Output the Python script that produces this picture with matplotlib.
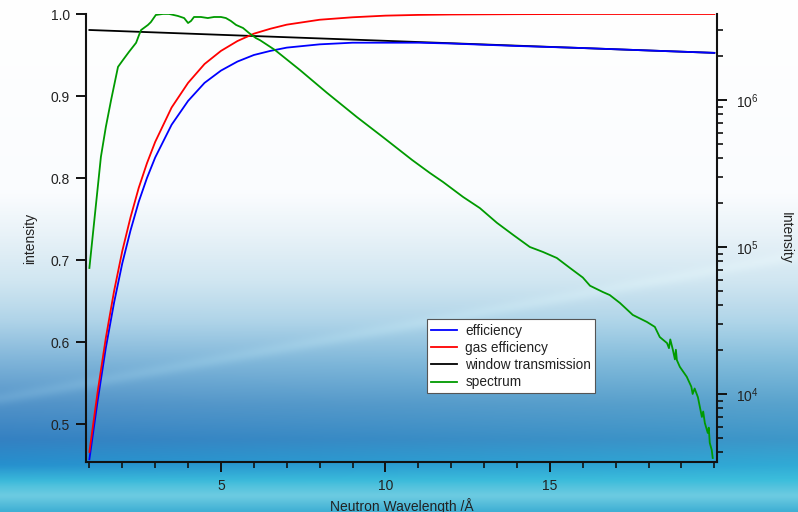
import numpy as np
import matplotlib
matplotlib.use("Agg")
import matplotlib.pyplot as plt
from matplotlib.ticker import MultipleLocator, LogLocator, NullFormatter
from matplotlib.lines import Line2D

plt.rcParams['font.family'] = ['Liberation Sans', 'DejaVu Sans']

# Detector efficiency curves vs wavelength (Å)
wl_eff = [1.0, 1.25, 1.5, 1.75, 2.0, 2.25, 2.5, 2.75, 3.0, 3.5, 4.0, 4.5, 5.0,
          5.5, 6.0, 6.5, 7.0, 8.0, 9.0, 10.0, 11.0, 12.0, 14.0, 16.0, 18.0, 20.0]
gas_efficiency = [0.466, 0.539, 0.605, 0.662, 0.711, 0.752, 0.788, 0.818, 0.844,
                  0.886, 0.916, 0.939, 0.955, 0.967, 0.976, 0.982, 0.987, 0.993,
                  0.996, 0.998, 0.9989, 0.9994, 0.9998, 1.0, 1.0, 1.0]
efficiency = [0.457, 0.528, 0.593, 0.648, 0.696, 0.736, 0.771, 0.800, 0.825,
              0.865, 0.894, 0.916, 0.931, 0.942, 0.950, 0.955, 0.959, 0.963,
              0.965, 0.965, 0.965, 0.964, 0.961, 0.9585, 0.9555, 0.9526]

wl_window = [1.0, 5.0, 10.0, 15.0, 20.0]
window_transmission = [0.9805, 0.9746, 0.9673, 0.9599, 0.9526]

# Measured neutron spectrum (counts)
wl_spec = [1.0, 1.35, 1.50, 1.66, 1.87, 2.02, 2.20, 2.42, 2.51, 2.57, 2.78, 2.87,
           3.02, 3.24, 3.42, 3.69, 3.88, 4.00, 4.09, 4.18, 4.39, 4.60, 4.79, 5.00,
           5.15, 5.30, 5.46, 5.67, 5.85, 6.06, 6.19, 6.64, 7.40, 8.22, 9.13, 9.92,
           10.81, 11.35, 11.75, 12.36, 12.87, 13.39, 13.88, 14.39, 14.79, 15.21,
           15.61, 16.00, 16.22, 16.61, 16.82, 17.13, 17.52, 17.95, 18.19, 18.34,
           18.56, 18.62, 18.66, 18.74, 18.80, 18.83, 18.86, 18.95, 19.16, 19.30,
           19.34, 19.40, 19.50, 19.62, 19.66, 19.71, 19.80, 19.83, 19.86, 19.92,
           19.95]
spectrum = [7.2e4, 4.1e5, 6.55e5, 1.0e6, 1.68e6, 1.87e6, 2.12e6, 2.45e6, 2.77e6,
            2.99e6, 3.24e6, 3.39e6, 3.79e6, 3.85e6, 3.85e6, 3.73e6, 3.61e6,
            3.34e6, 3.45e6, 3.67e6, 3.67e6, 3.61e6, 3.67e6, 3.67e6, 3.61e6,
            3.45e6, 3.24e6, 3.09e6, 2.86e6, 2.64e6, 2.55e6, 2.19e6, 1.60e6,
            1.12e6, 7.66e5, 5.60e5, 3.91e5, 3.19e5, 2.77e5, 2.19e5, 1.84e5,
            1.46e5, 1.21e5, 1.0e5, 9.25e4, 8.42e4, 7.2e4, 6.2e4, 5.45e4, 4.94e4,
            4.71e4, 4.16e4, 3.45e4, 3.09e4, 2.86e4, 2.44e4, 2.22e4, 2.05e4,
            2.35e4, 1.99e4, 1.72e4, 2.0e4, 1.70e4, 1.53e4, 1.31e4, 1.12e4,
            1.0e4, 1.09e4, 9.5e3, 6.98e3, 7.6e3, 6.35e3, 5.43e3, 5.9e3, 4.65e3,
            4.16e3, 3.67e3]

labels = ["efficiency", "gas efficiency", "window transmission", "spectrum"]
colors = ["#0000ff", "#ff0000", "#000000", "#009a00"]

W, H = 798, 512
fig = plt.figure(figsize=(W / 100, H / 100), dpi=100)

# Backdrop: white at the top fading to blue/cyan toward the bottom
bg = fig.add_axes([0, 0, 1, 1], zorder=-10)
ny, nx = 256, 200
yy = np.linspace(0, 1, ny)[:, None]   # 0 top, 1 bottom
xx = np.linspace(0, 1, nx)[None, :]
stops_y = [0.0, 0.38, 0.46, 0.55, 0.63, 0.71, 0.79, 0.86, 0.91, 0.94, 0.97, 1.0]
stops_c = np.array([
    [255, 255, 255], [250, 252, 254], [232, 242, 248], [208, 230, 241],
    [176, 212, 232], [134, 184, 216], [98, 156, 200], [74, 142, 194],
    [64, 160, 206], [64, 188, 218], [110, 204, 226], [64, 176, 212]]) / 255.0
img = np.zeros((ny, nx, 3))
for k in range(3):
    img[:, :, k] = np.interp(yy[:, 0], stops_y, stops_c[:, k])[:, None]
# darker steel blue toward the lower left, lighter cyan to the right
shade = np.clip((yy - 0.60) / 0.3, 0, 1) * np.clip(1 - (yy - 0.91) / 0.04, 0, 1)
left_dark = shade * (0.10 * (1 - xx))
img[:, :, 0] -= left_dark * 1.0
img[:, :, 1] -= left_dark * 0.6
right_cyan = shade * 0.10 * xx
img[:, :, 0] -= right_cyan * 0.6
img[:, :, 1] += right_cyan * 0.4
img[:, :, 2] += right_cyan * 0.3
# faint light streak rising to the right
streak_center = 0.78 - 0.28 * xx
streak = np.exp(-((yy - streak_center) / 0.012) ** 2) * 0.10 * (1 - 0.6 * xx)
img += streak[:, :, None] * np.array([0.6, 0.5, 0.3])
img = np.clip(img, 0, 1)
bg.imshow(img, aspect='auto', extent=[0, 1, 0, 1], interpolation='bicubic')
bg.set_axis_off()

left, right = 86 / W, 717 / W
bottom, top = 1 - 462 / H, 1 - 14 / H
ax = fig.add_axes([left, bottom, right - left, top - bottom])
ax.patch.set_alpha(0)

ax.plot(wl_eff, efficiency, color=colors[0], lw=1.3, zorder=3)
ax.plot(wl_eff, gas_efficiency, color=colors[1], lw=1.3, zorder=3)
ax.plot(wl_window, window_transmission, color=colors[2], lw=1.3, zorder=2)

ax.set_xlim(0.897, 20.08)
ax.set_ylim(0.4537, 1.0)
ax.set_xticks([5, 10, 15])
ax.xaxis.set_minor_locator(MultipleLocator(1))
ax.set_yticks([0.5, 0.6, 0.7, 0.8, 0.9, 1.0])

for s in ["top", "right"]:
    ax.spines[s].set_visible(False)
for s in ["left", "bottom"]:
    ax.spines[s].set_linewidth(1.5)
    ax.spines[s].set_color("#111111")

ax.tick_params(axis='both', which='major', direction='out', length=7.5,
               width=1.4, labelsize=10, colors="#111111", labelcolor="#222222")
ax.tick_params(axis='x', which='minor', direction='out', length=4.5, width=1.2,
               colors="#111111")
ax.tick_params(axis='x', which='major', pad=5)
ax.tick_params(axis='y', which='major', pad=4)
ax.set_ylabel("intensity", fontsize=10, color="#222222", labelpad=10)
ax.set_xlabel("Neutron Wavelength /Å", fontsize=10, color="#222222", labelpad=3)

ax2 = ax.twinx()
ax2.patch.set_alpha(0)
ax2.plot(wl_spec, spectrum, color=colors[3], lw=1.3, zorder=2)
ax2.set_yscale('log')
ax2.set_ylim(3446, 3.846e6)
ax2.yaxis.set_major_locator(LogLocator(base=10, numticks=10))
ax2.yaxis.set_minor_locator(LogLocator(base=10, subs=np.arange(2, 10), numticks=20))
ax2.yaxis.set_minor_formatter(NullFormatter())
for s in ["top", "left", "bottom"]:
    ax2.spines[s].set_visible(False)
ax2.spines["right"].set_linewidth(1.5)
ax2.spines["right"].set_color("#111111")
ax2.tick_params(axis='y', which='major', direction='out', length=7.5, width=1.4,
                labelsize=10, colors="#111111", labelcolor="#222222", pad=6)
ax2.tick_params(axis='y', which='minor', direction='out', length=4.5, width=1.2,
                colors="#111111")
ax2.set_ylabel("Intensity", fontsize=10, color="#222222", rotation=270,
               labelpad=25)

handles = [Line2D([], [], color=c, lw=1.3) for c in colors]
leg = ax2.legend(handles, labels, loc='lower left',
                 bbox_to_anchor=(0.541, 0.153), fontsize=9.8, frameon=True,
                 fancybox=False, framealpha=1, edgecolor="#555555",
                 handlelength=1.9, handletextpad=0.6, borderpad=0.3,
                 labelspacing=0.24, borderaxespad=0)
leg.get_frame().set_linewidth(0.8)
for t in leg.get_texts():
    t.set_color("#222222")

fig.savefig("out.png", dpi=100)
